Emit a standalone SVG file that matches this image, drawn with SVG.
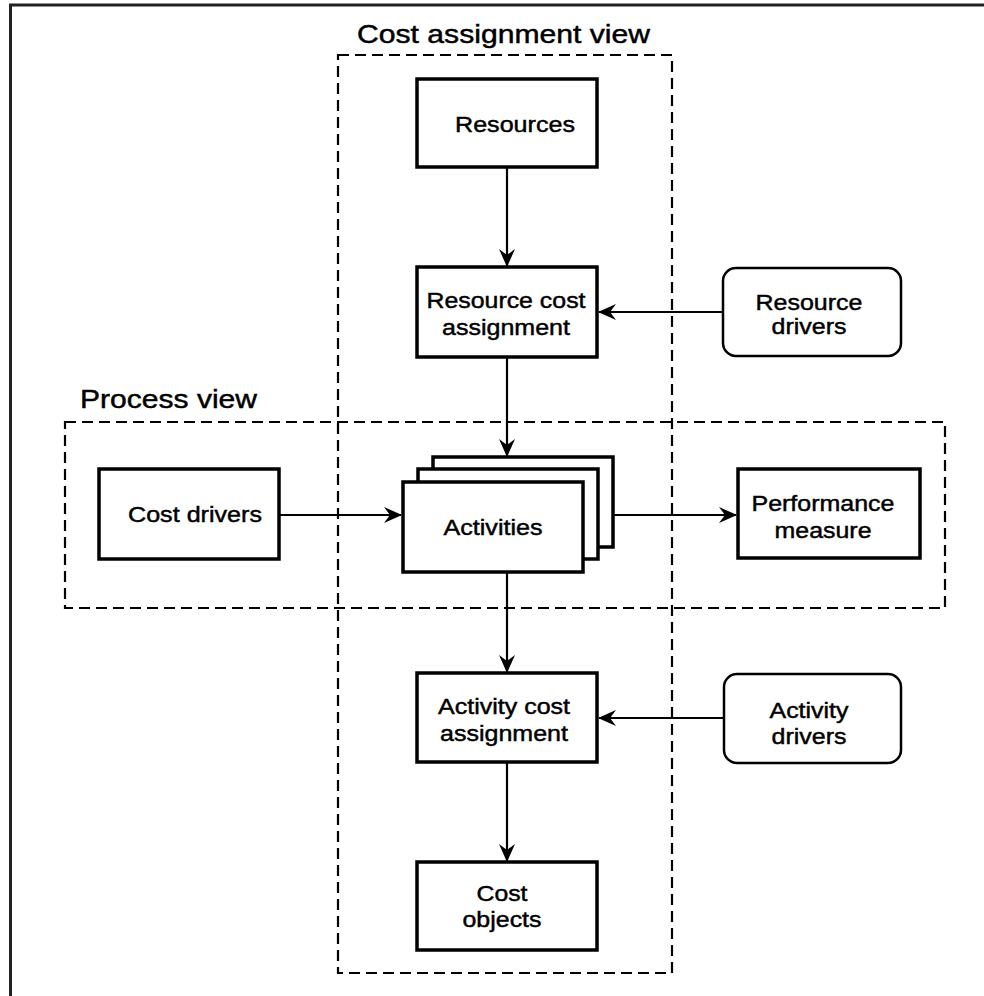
<svg xmlns="http://www.w3.org/2000/svg" width="984" height="996" viewBox="0 0 984 996">
<defs>
<style>
.box{fill:#fff;stroke:#000;stroke-width:3.5}
.rbox{fill:#fff;stroke:#000;stroke-width:2.5}
.zone{fill:none;stroke:#000;stroke-width:2.2;stroke-dasharray:11 6}
.frame{fill:none;stroke:#222;stroke-width:3}
.conn{fill:none;stroke:#000;stroke-width:2.2}
text{font-family:"Liberation Sans",Arial,sans-serif;fill:#000;stroke:#000;stroke-width:0.45}
.t{font-size:22px;text-anchor:middle}
.title{font-size:25px}
</style>
<marker id="arr" viewBox="0 0 18 16" refX="17" refY="8" markerWidth="18" markerHeight="16" markerUnits="userSpaceOnUse" orient="auto">
<path d="M0,0 L18,8 L0,16 L6,8 Z" fill="#000"/>
</marker>
</defs>
<rect width="984" height="996" fill="#fff"/>
<path class="frame" d="M10.5,996 V5 H984"/>

<g id="cost-assignment-view">
<rect class="zone" x="338" y="55" width="334" height="918"/>
<text class="title" x="357" y="43" textLength="293" lengthAdjust="spacingAndGlyphs">Cost assignment view</text>
</g>
<g id="process-view">
<rect class="zone" x="65" y="422" width="880" height="186"/>
<text class="title" x="80" y="408" textLength="177" lengthAdjust="spacingAndGlyphs">Process view</text>
</g>

<g id="connectors">
<line class="conn" x1="507" y1="167" x2="507" y2="266" marker-end="url(#arr)"/>
<line class="conn" x1="507" y1="357" x2="507" y2="456" marker-end="url(#arr)"/>
<line class="conn" x1="507" y1="572" x2="507" y2="672" marker-end="url(#arr)"/>
<line class="conn" x1="507" y1="762" x2="507" y2="861" marker-end="url(#arr)"/>
<line class="conn" x1="722" y1="312" x2="599" y2="312" marker-end="url(#arr)"/>
<line class="conn" x1="723" y1="718" x2="599" y2="718" marker-end="url(#arr)"/>
<line class="conn" x1="279" y1="515" x2="401" y2="515" marker-end="url(#arr)"/>
<line class="conn" x1="613" y1="515" x2="736" y2="515" marker-end="url(#arr)"/>
</g>

<g id="resources">
<rect class="box" x="417" y="79" width="180" height="88"/>
<text class="t" x="515" y="132" textLength="120" lengthAdjust="spacingAndGlyphs">Resources</text>
</g>
<g id="resource-cost-assignment">
<rect class="box" x="417" y="267" width="180" height="90"/>
<text class="t" x="506" y="308" textLength="159" lengthAdjust="spacingAndGlyphs">Resource cost</text>
<text class="t" x="506" y="335" textLength="128" lengthAdjust="spacingAndGlyphs">assignment</text>
</g>
<g id="resource-drivers">
<rect class="rbox" x="723" y="268" width="178" height="88" rx="13"/>
<text class="t" x="809" y="310" textLength="107" lengthAdjust="spacingAndGlyphs">Resource</text>
<text class="t" x="809" y="334" textLength="75" lengthAdjust="spacingAndGlyphs">drivers</text>
</g>
<g id="cost-drivers">
<rect class="box" x="99" y="469" width="180" height="90"/>
<text class="t" x="195" y="522" textLength="134" lengthAdjust="spacingAndGlyphs">Cost drivers</text>
</g>
<g id="activities">
<rect class="box" x="433" y="457" width="180" height="90"/>
<rect class="box" x="418" y="469" width="180" height="90"/>
<rect class="box" x="403" y="482" width="180" height="90"/>
<text class="t" x="493" y="535" textLength="99" lengthAdjust="spacingAndGlyphs">Activities</text>
</g>
<g id="performance-measure">
<rect class="box" x="738" y="469" width="182" height="89"/>
<text class="t" x="823" y="511" textLength="143" lengthAdjust="spacingAndGlyphs">Performance</text>
<text class="t" x="823" y="538" textLength="97" lengthAdjust="spacingAndGlyphs">measure</text>
</g>
<g id="activity-cost-assignment">
<rect class="box" x="417" y="673" width="180" height="89"/>
<text class="t" x="504" y="714" textLength="132" lengthAdjust="spacingAndGlyphs">Activity cost</text>
<text class="t" x="504" y="741" textLength="128" lengthAdjust="spacingAndGlyphs">assignment</text>
</g>
<g id="activity-drivers">
<rect class="rbox" x="724" y="674" width="177" height="89" rx="13"/>
<text class="t" x="809" y="718" textLength="79" lengthAdjust="spacingAndGlyphs">Activity</text>
<text class="t" x="809" y="744" textLength="75" lengthAdjust="spacingAndGlyphs">drivers</text>
</g>
<g id="cost-objects">
<rect class="box" x="417" y="862" width="180" height="88"/>
<text class="t" x="502" y="901" textLength="51" lengthAdjust="spacingAndGlyphs">Cost</text>
<text class="t" x="502" y="927" textLength="79" lengthAdjust="spacingAndGlyphs">objects</text>
</g>
</svg>
